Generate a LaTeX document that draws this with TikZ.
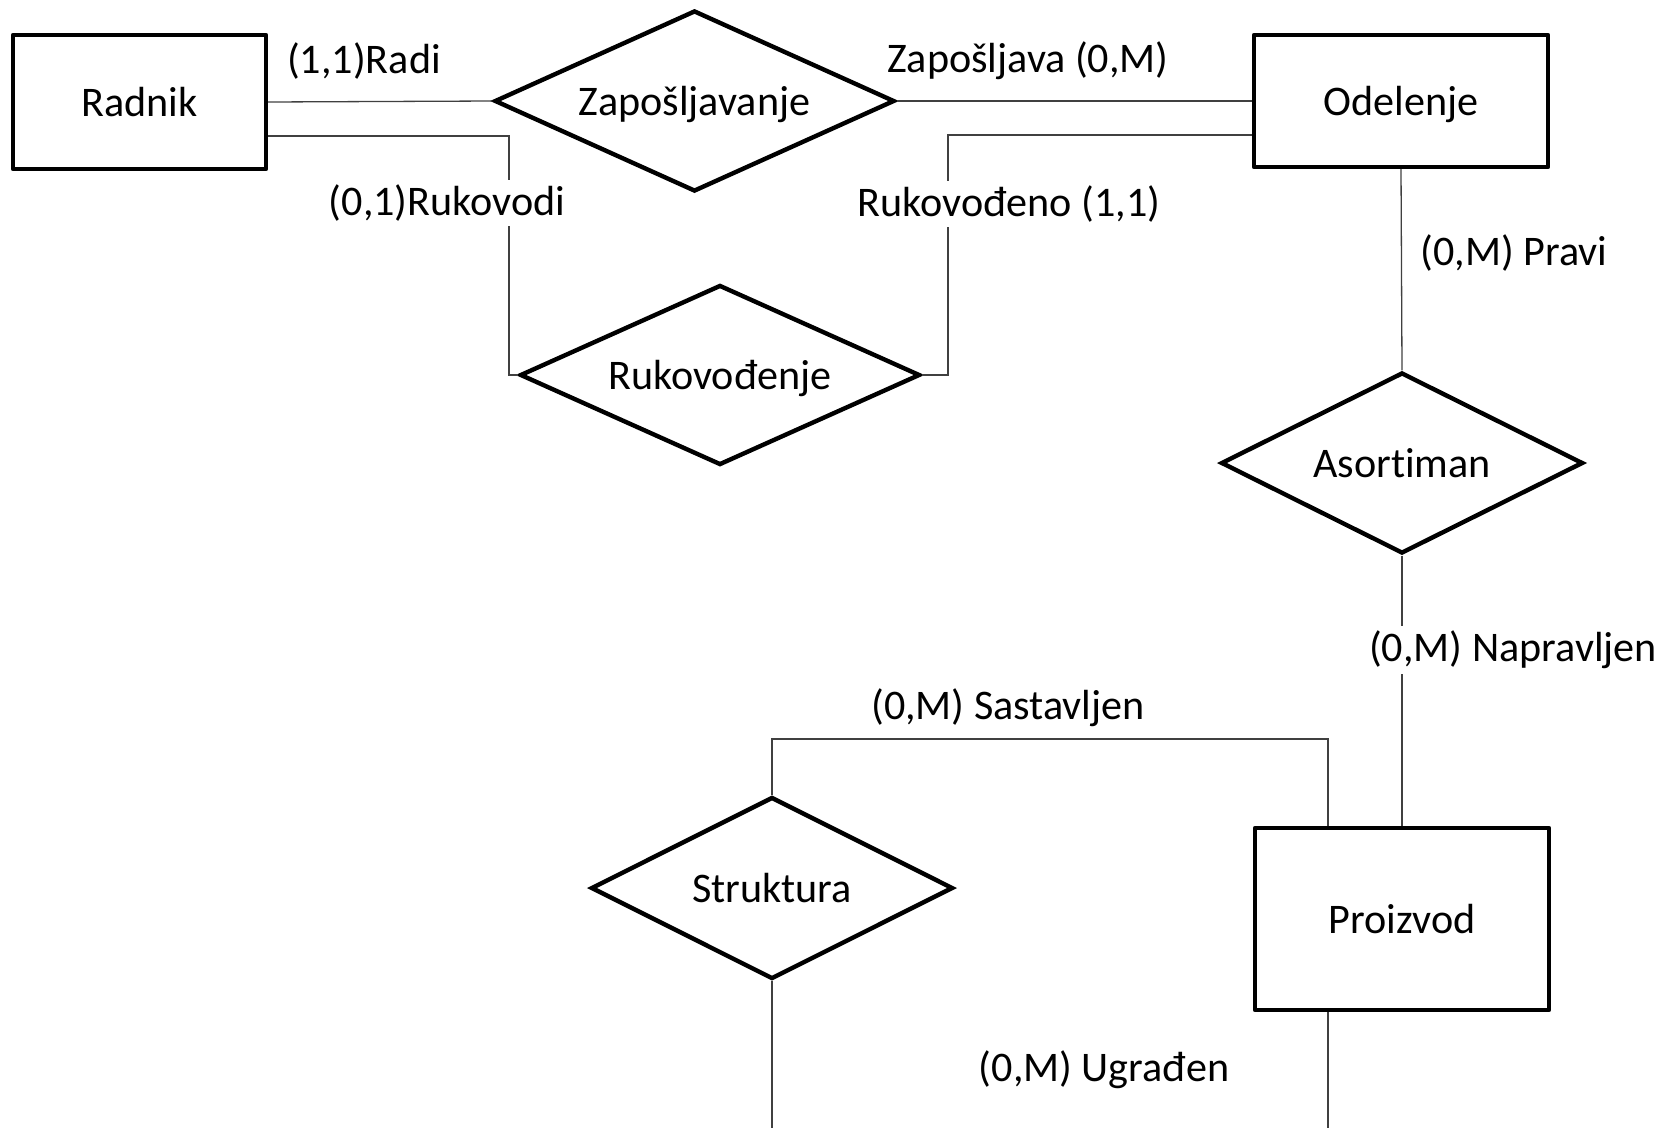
\documentclass[tikz,border=0pt]{standalone}
\usepackage{fontspec}
\setmainfont{Carlito}[Ligatures=NoCommon]
\usetikzlibrary{shapes.geometric}
\begin{document}
\begin{tikzpicture}[x=1bp,y=-1bp,
  every node/.style={font=\fontsize{42.3}{50}\selectfont},
  entity/.style={draw, line width=4.4bp, line join=round, rectangle, inner sep=0pt,
    text height=30bp, text depth=2bp},
  relation/.style={draw, line width=4.4bp, diamond, shape aspect=2.2, inner sep=0pt,
    text height=30bp, text depth=2bp},
  conn/.style={draw=black!75, line width=1.3bp},
  card/.style={inner xsep=2bp, inner ysep=5bp},
  cardw/.style={card, fill=white},
]
\useasboundingbox (0,0) rectangle (1670,1128);

% entities and relationships
\node[entity, minimum width=253bp, minimum height=134bp] (radnik) at (139.5,102) {Radnik};
\node[relation, minimum width=400bp, minimum height=181bp] (zap) at (694.5,101) {Zapošljavanje};
\node[entity, minimum width=294bp, minimum height=132bp] (odelenje) at (1401,101) {Odelenje};
\node[relation, minimum width=400bp, minimum height=180bp] (rukov) at (720,375) {Rukovođenje};
\node[relation, minimum width=362bp, minimum height=181bp] (asort) at (1402,463) {Asortiman};
\node[entity, minimum width=294bp, minimum height=182bp] (proizvod) at (1402,919) {Proizvod};
\node[relation, minimum width=362bp, minimum height=182bp] (struktura) at (772,888) {Struktura};

% bend points and free ends of connectors
\coordinate (rk) at (509,136);
\coordinate (ok) at (948,135);
\coordinate (sp) at (1328,739);
\coordinate (bot) at (0,1128);

% connectors
\draw[conn] (radnik.east) -- (zap.west);
\draw[conn] (zap.east) -- (odelenje.west);
\draw[conn] (radnik.east |- rk) -| (rk |- rukov.west) -- (rukov.west);
\draw[conn] (odelenje.west |- ok) -| (ok |- rukov.east) -- (rukov.east);
\draw[conn] (odelenje.south) -- (asort.north);
\draw[conn] (asort.south) -- (proizvod.north);
\draw[conn] (struktura.north) |- (sp) -- (sp |- proizvod.north);
\draw[conn] (struktura.south) -- (struktura.south |- bot);
\draw[conn] (sp |- proizvod.south) -- (sp |- bot);

% cardinalities
\node[card] (c1) at (364,61) {(1,1)Radi};
\node[card] (c2) at (1028,61) {Zapošljava (0,M)};
\node[cardw] (c3) at (447,203) {(0,1)Rukovodi};
\node[cardw] (c4) at (1009,204) {Rukovođeno (1,1)};
\node[card] (c5) at (1514,253) {(0,M) Pravi};
\node[cardw] (c6) at (1513,650) {(0,M) Napravljen};
\node[card] (c7) at (1008,708) {(0,M) Sastavljen};
\node[card] (c8) at (1104,1070) {(0,M) Ugrađen};
\end{tikzpicture}
\end{document}
